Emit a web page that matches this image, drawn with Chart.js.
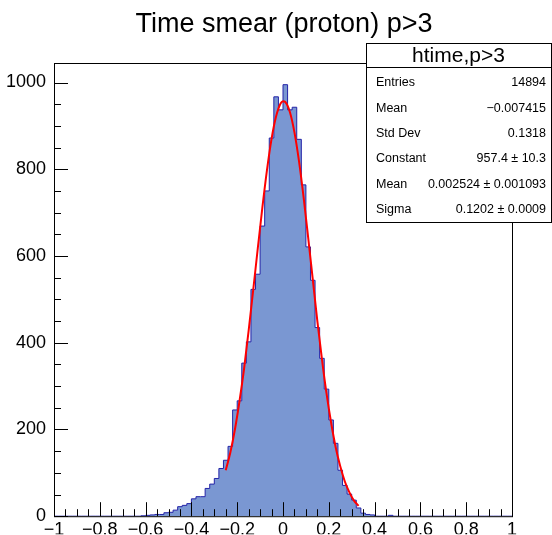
<!DOCTYPE html>
<html>
<head>
<meta charset="utf-8">
<script src="https://cdn.jsdelivr.net/npm/chart.js@4/dist/chart.umd.min.js"></script>
<style>
  html, body { margin: 0; padding: 0; background: #fff; }
  #hist { display: block; }
</style>
</head>
<body>
<canvas id="hist" width="552" height="535"></canvas>
<script>
const chartTitle = 'Time smear (proton) p>3';
const histName = 'htime,p>3';

// 100 bins from -1 to 1
const binLow = -1;
const binWidth = 0.02;
const counts = [
  0, 0, 0, 0, 0, 0, 0, 0, 0, 0,
  0, 0, 0, 0, 0, 0, 0, 0, 0, 1,
  2, 3, 4, 4, 8, 9, 14, 22, 25, 29,
  40, 45, 45, 64, 74, 87, 110, 129, 161, 245,
  266, 353, 402, 523, 558, 669, 750, 872, 967, 937,
  995, 937, 943, 869, 764, 621, 544, 435, 364, 293,
  222, 168, 106, 71, 51, 37, 19, 7, 4, 3,
  0, 0, 0, 2, 0, 0, 0, 0, 0, 0,
  0, 0, 0, 0, 0, 0, 0, 0, 0, 0,
  0, 0, 0, 0, 0, 0, 0, 0, 0, 0
];

// gaussian fit curve
const fitX = [-0.25, -0.23, -0.21, -0.19, -0.17, -0.15, -0.13, -0.11, -0.09, -0.07, -0.05, -0.03, -0.01, 0.0,
  0.01, 0.03, 0.05, 0.07, 0.09, 0.11, 0.13, 0.15, 0.17, 0.19, 0.21, 0.23, 0.25, 0.27, 0.29, 0.31, 0.33];
const fitY = [106, 147, 200, 265, 340, 428, 522, 618, 712, 798, 870, 922, 952, 957,
  955, 932, 885, 818, 735, 642, 546, 450, 362, 283, 216, 159, 115, 80, 55, 36, 24];

const statLabels = ['Entries', 'Mean', 'Std Dev', 'Constant', 'Mean', 'Sigma'];
const statValues = ['14894', '\u22120.007415', '0.1318', '957.4 \u00b1 10.3', '0.002524 \u00b1 0.001093', '0.1202 \u00b1 0.0009'];

const FONT = '"Liberation Sans", Arial, Helvetica, sans-serif';

const histPoints = counts.map((c, i) => ({x: binLow + i * binWidth, y: c}));
histPoints.push({x: binLow + counts.length * binWidth, y: counts[counts.length - 1]});
const fitPoints = fitX.map((x, i) => ({x: x, y: fitY[i]}));

function fmt(v) {
  let s = String(Math.round(v * 10) / 10);
  return s.replace('-', '\u2212');
}

const rootStyle = {
  id: 'rootStyle',
  afterDraw(chart) {
    const {ctx, chartArea: a, scales} = chart;
    const x = scales.x, y = scales.y;
    ctx.save();
    ctx.strokeStyle = '#000';
    ctx.lineWidth = 1;

    // frame
    ctx.strokeRect(a.left + 0.5, a.top + 0.5, a.right - a.left, a.bottom - a.top);

    // x ticks (inside)
    ctx.beginPath();
    for (let k = 0; k <= 40; k++) {
      const v = -1 + k * 0.05;
      const px = Math.round(x.getPixelForValue(v)) + 0.5;
      const len = k % 4 === 0 ? 14 : 7;
      ctx.moveTo(px, a.bottom);
      ctx.lineTo(px, a.bottom - len);
    }
    // y ticks (inside)
    for (let k = 0; k <= 20; k++) {
      const v = k * 50;
      const py = Math.round(y.getPixelForValue(v)) + 0.5;
      const len = k % 4 === 0 ? 14 : 7;
      ctx.moveTo(a.left, py);
      ctx.lineTo(a.left + len, py);
    }
    ctx.stroke();

    // title
    ctx.fillStyle = '#000';
    ctx.font = '27px ' + FONT;
    ctx.textAlign = 'center';
    ctx.textBaseline = 'alphabetic';
    ctx.fillText(chartTitle, 284, 32);

    // stats box
    const bx = 366, by = 43, bw = 185, bh = 179;
    ctx.fillStyle = '#fff';
    ctx.fillRect(bx, by, bw, bh);
    ctx.strokeRect(bx + 0.5, by + 0.5, bw, bh);
    ctx.beginPath();
    ctx.moveTo(bx, by + 24.5);
    ctx.lineTo(bx + bw, by + 24.5);
    ctx.stroke();
    ctx.fillStyle = '#000';
    ctx.font = '21px ' + FONT;
    ctx.textAlign = 'center';
    ctx.textBaseline = 'middle';
    ctx.fillText(histName, bx + bw / 2, by + 13);
    ctx.font = '12.5px ' + FONT;
    statLabels.forEach((lab, i) => {
      const ty = by + 40 + 25.3 * i;
      ctx.textAlign = 'left';
      ctx.fillText(lab, bx + 10, ty);
      ctx.textAlign = 'right';
      ctx.fillText(statValues[i], bx + bw - 5, ty);
    });
    ctx.restore();
  }
};

new Chart(document.getElementById('hist'), {
  type: 'line',
  data: {
    datasets: [{
      label: 'fit',
      data: fitPoints,
      borderColor: '#ff0000',
      borderWidth: 2,
      pointRadius: 0,
      cubicInterpolationMode: 'monotone',
      fill: false,
      order: 1
    }, {
      label: histName,
      data: histPoints,
      stepped: 'before',
      borderColor: '#2424a8',
      borderWidth: 1,
      backgroundColor: 'rgb(122,151,210)',
      fill: 'origin',
      pointRadius: 0,
      order: 2
    }]
  },
  options: {
    responsive: false,
    animation: false,
    devicePixelRatio: 1,
    layout: {padding: {left: 0, top: 63, right: 40, bottom: 0}},
    plugins: {legend: {display: false}, tooltip: {enabled: false}, title: {display: false}},
    scales: {
      x: {
        type: 'linear',
        min: -1,
        max: 1,
        grid: {display: false, drawTicks: false},
        border: {display: false},
        ticks: {
          stepSize: 0.2,
          autoSkip: false,
          maxRotation: 0,
          padding: 3,
          color: '#000',
          font: {size: 18, family: FONT},
          callback: v => fmt(v)
        },
        afterFit(s) { s.height = 18; }
      },
      y: {
        min: 0,
        max: 1045,
        grid: {display: false, drawTicks: false},
        border: {display: false},
        ticks: {
          stepSize: 200,
          includeBounds: false,
          padding: 8,
          color: '#000',
          font: {size: 18, family: FONT},
          callback: v => String(v)
        },
        afterFit(s) { s.width = 54; }
      }
    }
  },
  plugins: [rootStyle]
});
</script>
</body>
</html>
